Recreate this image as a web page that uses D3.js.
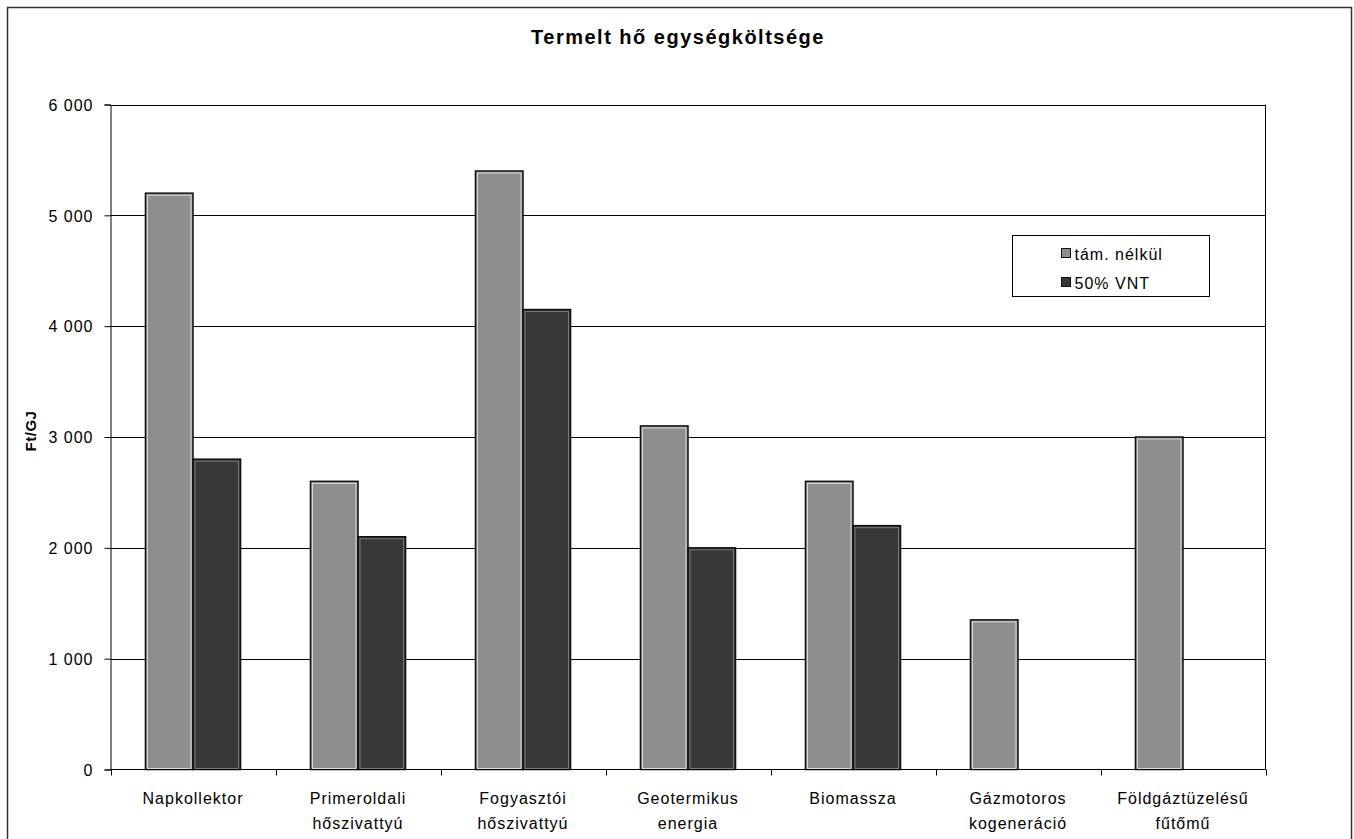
<!DOCTYPE html>
<html>
<head>
<meta charset="utf-8">
<script src="https://cdn.jsdelivr.net/npm/d3@7"></script>
<style>
  html, body { margin: 0; padding: 0; background: #fff; }
  svg text { font-family: Arial, "Liberation Sans", sans-serif; fill: #000; }
</style>
</head>
<body>
<svg id="chart" width="1354" height="839"></svg>
<script>
// Heat unit cost by technology (Ft/GJ)
const categories = [
  ["Napkollektor"],
  ["Primeroldali", "hőszivattyú"],
  ["Fogyasztói", "hőszivattyú"],
  ["Geotermikus", "energia"],
  ["Biomassza"],
  ["Gázmotoros", "kogeneráció"],
  ["Földgáztüzelésű", "fűtőmű"]
];
const seriesNames = ["tám. nélkül", "50% VNT"];
const withoutSupport = [5200, 2600, 5400, 3100, 2600, 1350, 3000];
const withSupport    = [2800, 2100, 4150, 2000, 2200, null, null];
const yTicks = [0, 1000, 2000, 3000, 4000, 5000, 6000];
const title = "Termelt hő egységköltsége";
const yTitle = "Ft/GJ";

const series = [
  { name: seriesNames[0], values: withoutSupport, fill: "#8e8e8e", inner: "#d9d9d9" },
  { name: seriesNames[1], values: withSupport,    fill: "#383838", inner: "#7a7a7a" }
];

const FONT = "Arial, 'Liberation Sans', sans-serif";
const svg = d3.select("#chart");
const plot = { left: 110.5, right: 1265.5, top: 104.5, bottom: 769.5 };

// Outer chart frame
svg.append("rect")
  .attr("x", 7.5).attr("y", 7.5)
  .attr("width", 1344).attr("height", 860)
  .attr("fill", "none").attr("stroke", "#333").attr("stroke-width", 1.5);

const x0 = d3.scaleBand()
  .domain(d3.range(categories.length))
  .range([plot.left, plot.right])
  .paddingInner(0.4237).paddingOuter(0.2119);
const x1 = d3.scaleBand()
  .domain(d3.range(series.length))
  .range([0, x0.bandwidth()]);
const y = d3.scaleLinear().domain([0, 6000]).range([plot.bottom, plot.top]);

// Horizontal gridlines
svg.append("g").selectAll("line")
  .data(yTicks.filter(t => t > 0))
  .join("line")
  .attr("x1", plot.left).attr("x2", plot.right)
  .attr("y1", d => Math.round(y(d)) + 0.5).attr("y2", d => Math.round(y(d)) + 0.5)
  .attr("stroke", "#000").attr("stroke-width", 1);

// Plot area right border
svg.append("line")
  .attr("x1", plot.right).attr("x2", plot.right)
  .attr("y1", plot.top).attr("y2", plot.bottom)
  .attr("stroke", "#000");

// Bars
const groups = svg.append("g").selectAll("g")
  .data(categories.map((c, i) => i))
  .join("g")
  .attr("transform", i => `translate(${x0(i)},0)`);

series.forEach((s, si) => {
  const data = groups.filter(i => s.values[i] != null);
  data.append("rect")
    .attr("x", x1(si)).attr("width", x1.bandwidth())
    .attr("y", i => y(s.values[i])).attr("height", i => y(0) - y(s.values[i]))
    .attr("fill", s.fill).attr("stroke", "#111").attr("stroke-width", 1.5);
  data.append("rect")
    .attr("x", x1(si) + 2).attr("width", x1.bandwidth() - 4)
    .attr("y", i => y(s.values[i]) + 2).attr("height", i => Math.max(0, y(0) - y(s.values[i]) - 3))
    .attr("fill", "none").attr("stroke", s.inner).attr("stroke-width", 1);
});

// Y axis
const yAxis = d3.axisLeft(y).tickValues(yTicks).tickSize(6).tickPadding(11)
  .tickFormat(d => d3.format(",")(d).replace(/,/g, " "));
const gy = svg.append("g").attr("transform", `translate(${plot.left},0)`).call(yAxis);
gy.select(".domain").attr("stroke", "#000");
gy.selectAll(".tick line").attr("stroke", "#000");
gy.selectAll(".tick text")
  .attr("font-size", 16).attr("font-family", FONT).attr("fill", "#000")
  .attr("letter-spacing", 1).attr("dy", "0.36em");

// X axis with ticks at category boundaries
const step = (plot.right - plot.left) / categories.length;
svg.append("line")
  .attr("x1", plot.left).attr("x2", plot.right)
  .attr("y1", plot.bottom).attr("y2", plot.bottom)
  .attr("stroke", "#000");
svg.append("g").selectAll("line")
  .data(d3.range(categories.length + 1))
  .join("line")
  .attr("x1", i => Math.round(plot.left + i * step) + 0.5)
  .attr("x2", i => Math.round(plot.left + i * step) + 0.5)
  .attr("y1", plot.bottom).attr("y2", plot.bottom + 6)
  .attr("stroke", "#000");

// Category labels
const labels = svg.append("g").selectAll("text")
  .data(categories)
  .join("text")
  .attr("text-anchor", "middle")
  .attr("font-size", 16)
  .attr("letter-spacing", 1)
  .attr("x", (d, i) => x0(i) + x0.bandwidth() / 2)
  .attr("y", 804);
labels.selectAll("tspan")
  .data(d => d)
  .join("tspan")
  .attr("x", function () { return this.parentNode.getAttribute("x"); })
  .attr("dy", (d, j) => j === 0 ? 0 : 25)
  .text(d => d);

// Title
svg.append("text")
  .attr("x", 678).attr("y", 43.5)
  .attr("text-anchor", "middle")
  .attr("font-size", 20).attr("font-weight", "bold")
  .attr("letter-spacing", 1.5)
  .text(title);

// Y axis title
svg.append("text")
  .attr("transform", "translate(36,431) rotate(-90)")
  .attr("text-anchor", "middle")
  .attr("font-size", 15).attr("font-weight", "bold")
  .attr("letter-spacing", 0.5)
  .text(yTitle);

// Legend
const legend = svg.append("g").attr("transform", "translate(1012.5,235.5)");
legend.append("rect")
  .attr("width", 197).attr("height", 61)
  .attr("fill", "#fff").attr("stroke", "#000");
series.forEach((s, si) => {
  const row = legend.append("g").attr("transform", `translate(49,${18 + si * 29})`);
  row.append("rect").attr("x", 0).attr("y", -5).attr("width", 9).attr("height", 9)
    .attr("fill", s.fill).attr("stroke", "#111");
  row.append("text").attr("x", 13).attr("y", 6).attr("font-size", 16)
    .attr("letter-spacing", 1).text(s.name);
});
</script>
</body>
</html>
